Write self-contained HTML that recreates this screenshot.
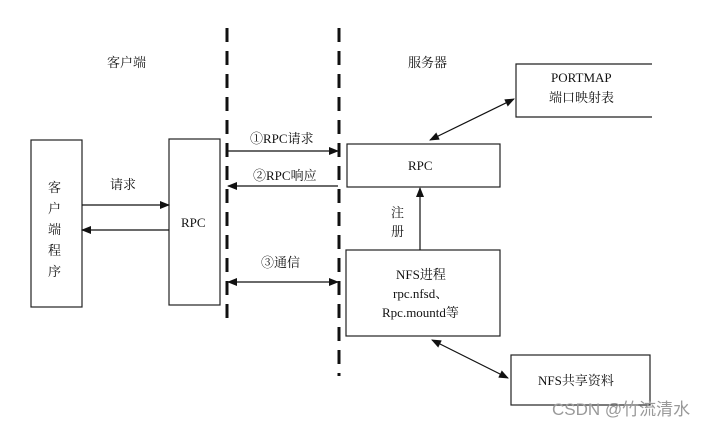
<!DOCTYPE html>
<html><head><meta charset="utf-8"><style>
body{margin:0;background:#fff;}
svg text{font-family:"Liberation Serif","Noto Serif CJK SC","Noto Sans CJK SC",serif;fill:#111;}
</style></head><body>
<svg width="704" height="427" viewBox="0 0 704 427" xmlns="http://www.w3.org/2000/svg">
<defs>
<marker id="a" markerWidth="10" markerHeight="8" refX="9" refY="4" orient="auto-start-reverse" markerUnits="userSpaceOnUse"><path d="M0,0 L10,4 L0,8 z" fill="#111"/></marker>
</defs>
<g stroke="#111" stroke-width="3" stroke-dasharray="14,9">
<line x1="227" y1="28" x2="227" y2="322"/>
<line x1="339" y1="28" x2="339" y2="376"/>
</g>
<g fill="none" stroke="#222" stroke-width="1.2">
<rect x="31" y="140" width="51" height="167"/>
<rect x="169" y="139" width="51" height="166"/>
<rect x="347" y="144" width="153" height="43"/>
<rect x="346" y="250" width="154" height="86"/>
<path d="M652,64 H516 V117 H652"/>
<rect x="511" y="355" width="139" height="50"/>
</g>
<g stroke="#111" stroke-width="1.2" fill="none">
<line x1="82" y1="205" x2="169" y2="205" marker-end="url(#a)"/>
<line x1="169" y1="230" x2="82" y2="230" marker-end="url(#a)"/>
<line x1="228" y1="151" x2="338" y2="151" marker-end="url(#a)"/>
<line x1="338" y1="186" x2="228" y2="186" marker-end="url(#a)"/>
<line x1="228" y1="282" x2="338" y2="282" marker-start="url(#a)" marker-end="url(#a)"/>
<line x1="430" y1="140" x2="514" y2="99" marker-start="url(#a)" marker-end="url(#a)"/>
<line x1="420" y1="250" x2="420" y2="188" marker-end="url(#a)"/>
<line x1="432" y1="340" x2="508" y2="378" marker-start="url(#a)" marker-end="url(#a)"/>
</g>
<g font-size="13">
<text x="107" y="67">客户端</text>
<text x="408" y="67">服务器</text>
<text x="110" y="189">请求</text>
<text x="181" y="227">RPC</text>
<text x="250" y="143">①RPC请求</text>
<text x="253" y="180">②RPC响应</text>
<text x="261" y="267">③通信</text>
<text x="408" y="170">RPC</text>
<text x="551" y="82">PORTMAP</text>
<text x="549" y="102">端口映射表</text>
<text x="391" y="217">注</text>
<text x="391" y="236">册</text>
<text x="396" y="279">NFS进程</text>
<text x="393" y="298">rpc.nfsd、</text>
<text x="382" y="317">Rpc.mountd等</text>
<text x="538" y="385">NFS共享资料</text>
<text x="48" y="192">客</text>
<text x="48" y="213">户</text>
<text x="48" y="234">端</text>
<text x="48" y="255">程</text>
<text x="48" y="276">序</text>
</g>
<text x="552" y="415" font-size="17" style="fill:#999;font-family:'Liberation Sans','Noto Sans CJK SC',sans-serif">CSDN @竹流清水</text>
</svg>
</body></html>
